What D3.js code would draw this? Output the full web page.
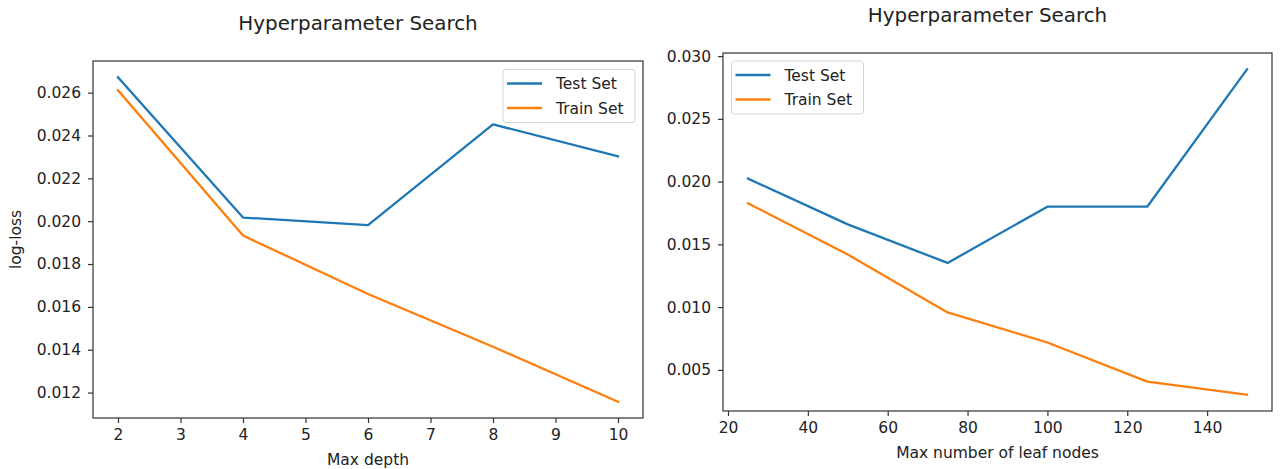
<!DOCTYPE html>
<html>
<head>
<meta charset="utf-8">
<script src="https://cdn.jsdelivr.net/npm/d3@7/dist/d3.min.js"></script>
<style>
  html, body { margin: 0; padding: 0; background: #fff; }
  svg { display: block; font-family: "DejaVu Sans", sans-serif; }
</style>
</head>
<body>
<svg id="chart" width="1280" height="469"></svg>
<script>
// Left panel: tree depth sweep
const depthValues = [2, 4, 6, 8, 10];
const depthTestLoss = [0.02672, 0.02017, 0.01982, 0.02452, 0.02303];
const depthTrainLoss = [0.02611, 0.01933, 0.01660, 0.01414, 0.01157];
const depthTicksX = [2, 3, 4, 5, 6, 7, 8, 9, 10];
const depthTicksY = [0.012, 0.014, 0.016, 0.018, 0.020, 0.022, 0.024, 0.026];

// Right panel: leaf-node sweep
const leafValues = [25, 50, 75, 100, 125, 150];
const leafTestLoss = [0.02024, 0.01659, 0.01352, 0.01800, 0.01800, 0.02895];
const leafTrainLoss = [0.01827, 0.01419, 0.00958, 0.00718, 0.00406, 0.00302];
const leafTicksX = [20, 40, 60, 80, 100, 120, 140];
const leafTicksY = [0.005, 0.010, 0.015, 0.020, 0.025, 0.030];

const seriesNames = ["Test Set", "Train Set"];
const seriesColors = ["#1f77b4", "#ff7f0e"];
const titleText = "Hyperparameter Search";

const svg = d3.select("#chart");
const textColor = "#222";

// matplotlib-style 5% auto margins
function padded(values) {
  const [lo, hi] = d3.extent(values);
  const p = (hi - lo) * 0.05;
  return [lo - p, hi + p];
}

function panel(cfg) {
  const g = svg.append("g");
  const x = d3.scaleLinear().domain(padded(cfg.xs)).range([cfg.left, cfg.right]);
  const y = d3.scaleLinear().domain(padded(cfg.series.flat())).range([cfg.bottom, cfg.top]);

  // series lines
  const line = d3.line().x((d, i) => x(cfg.xs[i])).y(d => y(d));
  cfg.series.forEach((vals, k) => {
    g.append("path")
      .datum(vals)
      .attr("d", line)
      .attr("fill", "none")
      .attr("stroke", seriesColors[k])
      .attr("stroke-width", 2.3)
      .attr("stroke-linejoin", "round")
      .attr("stroke-linecap", "square");
  });

  // axes
  const xAxis = d3.axisBottom(x).tickValues(cfg.xTicks).tickSize(5).tickPadding(6)
    .tickFormat(d3.format("d"));
  const yAxis = d3.axisLeft(y).tickValues(cfg.yTicks).tickSize(5).tickPadding(7)
    .tickFormat(d3.format(".3f"));

  const gx = g.append("g").attr("transform", `translate(0,${cfg.bottom})`).call(xAxis);
  const gy = g.append("g").attr("transform", `translate(${cfg.left},0)`).call(yAxis);
  [gx, gy].forEach(a => {
    a.select(".domain").remove();
    a.selectAll(".tick line").attr("stroke", "#333").attr("stroke-width", 1.2);
    a.selectAll(".tick text").attr("fill", textColor).style("font-size", "15.5px")
      .style("font-family", "DejaVu Sans");
  });

  // frame
  g.append("rect")
    .attr("x", cfg.left).attr("y", cfg.top)
    .attr("width", cfg.right - cfg.left).attr("height", cfg.bottom - cfg.top)
    .attr("fill", "none").attr("stroke", "#333").attr("stroke-width", 1.2);

  // title
  g.append("text")
    .attr("x", (cfg.left + cfg.right) / 2 - 10).attr("y", cfg.titleY)
    .attr("text-anchor", "middle").attr("fill", textColor)
    .style("font-size", "19.9px").text(titleText);

  // x label
  g.append("text")
    .attr("x", (cfg.left + cfg.right) / 2).attr("y", cfg.bottom + 47)
    .attr("text-anchor", "middle").attr("fill", textColor)
    .style("font-size", "15.5px").text(cfg.xLabel);

  if (cfg.yLabel) {
    g.append("text")
      .attr("transform", `translate(${cfg.left - 72},${(cfg.top + cfg.bottom) / 2}) rotate(-90)`)
      .attr("text-anchor", "middle").attr("fill", textColor)
      .style("font-size", "15.5px").text(cfg.yLabel);
  }

  // legend
  const lg = g.append("g").attr("transform", `translate(${cfg.legend[0]},${cfg.legend[1]})`);
  lg.append("rect")
    .attr("x", 0).attr("y", 0).attr("width", cfg.legendW).attr("height", 53)
    .attr("rx", 3).attr("fill", "#fff").attr("fill-opacity", 0.8)
    .attr("stroke", "#d6d6d6").attr("stroke-width", 1);
  seriesNames.forEach((name, k) => {
    const yy = 14 + k * 24.5;
    lg.append("line")
      .attr("x1", 4).attr("x2", 39).attr("y1", yy).attr("y2", yy)
      .attr("stroke", seriesColors[k]).attr("stroke-width", 2.3);
    lg.append("text")
      .attr("x", 53).attr("y", yy + 5.5)
      .attr("fill", textColor).style("font-size", "15.5px").text(name);
  });
}

panel({
  xs: depthValues, series: [depthTestLoss, depthTrainLoss],
  xTicks: depthTicksX, yTicks: depthTicksY,
  left: 93, right: 643, top: 61, bottom: 418,
  titleY: 30, xLabel: "Max depth", yLabel: "log-loss",
  legend: [503, 69.5], legendW: 132
});

panel({
  xs: leafValues, series: [leafTestLoss, leafTrainLoss],
  xTicks: leafTicksX, yTicks: leafTicksY,
  left: 723, right: 1272, top: 53, bottom: 411,
  titleY: 22, xLabel: "Max number of leaf nodes", yLabel: null,
  legend: [731.5, 61], legendW: 132
});
</script>
</body>
</html>
